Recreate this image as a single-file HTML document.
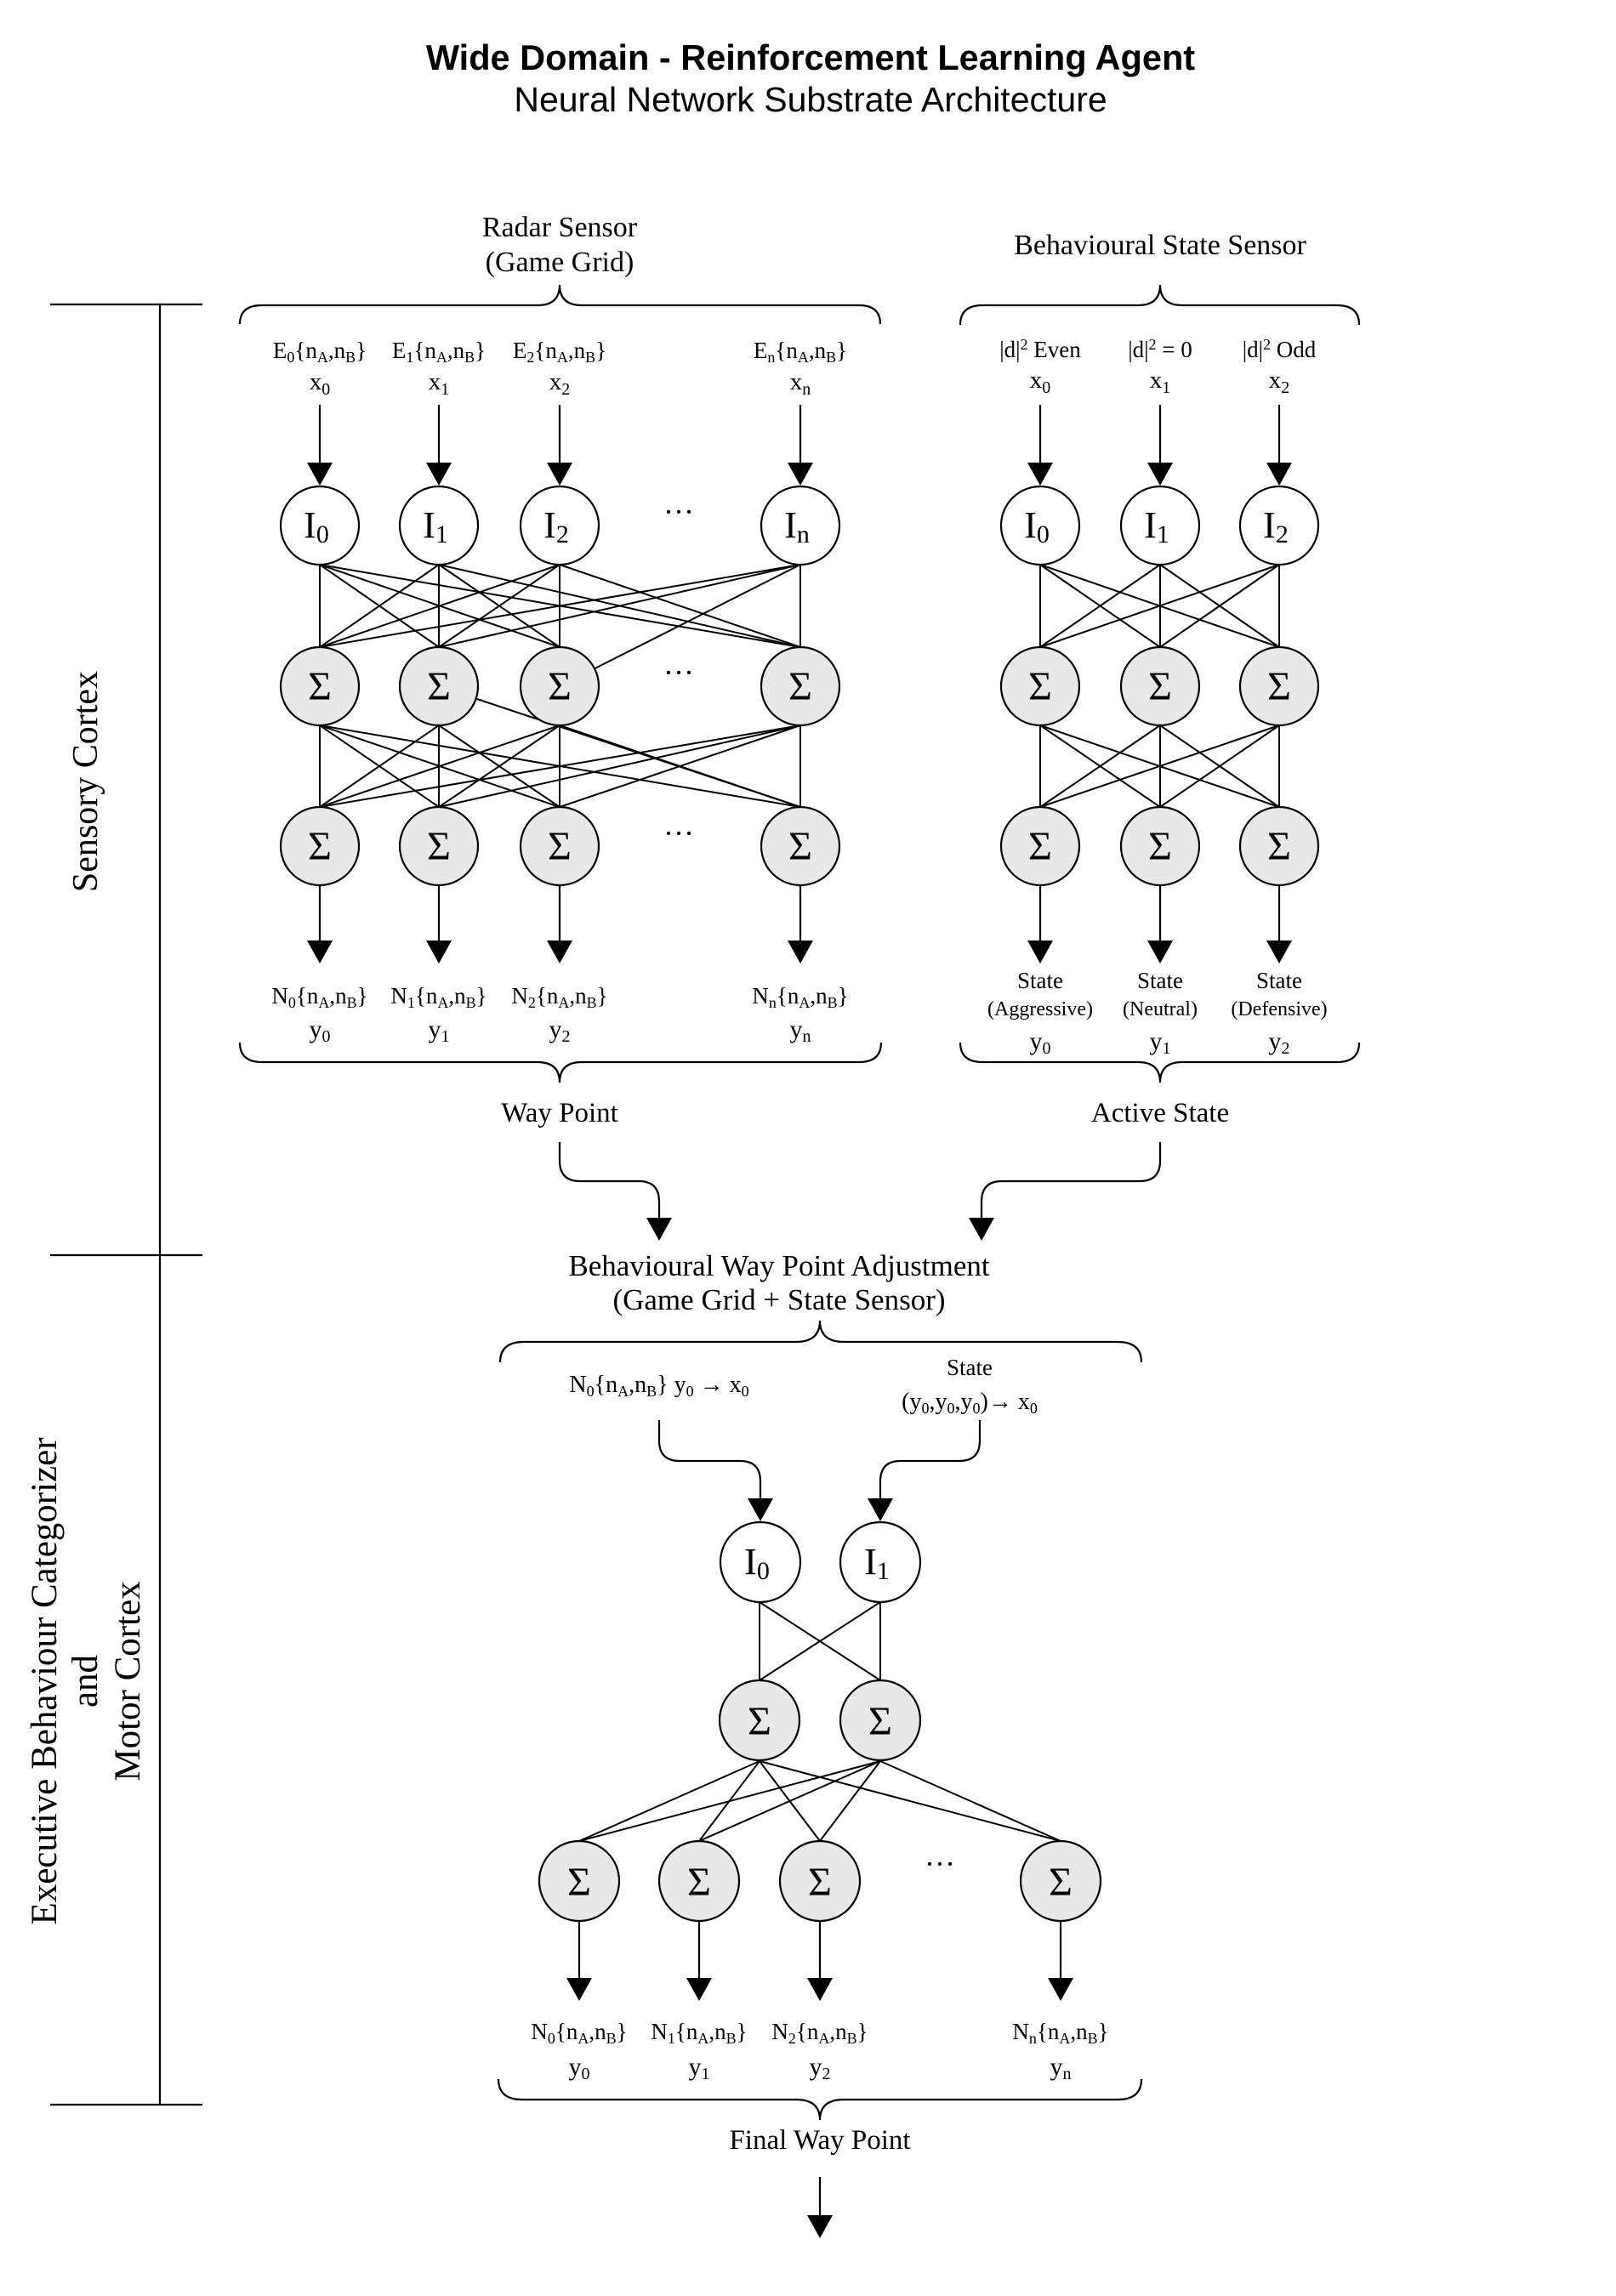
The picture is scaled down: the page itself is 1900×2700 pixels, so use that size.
<!DOCTYPE html>
<html><head><meta charset="utf-8"><style>
html,body{margin:0;padding:0;background:#fff;}
svg{display:block;}
.s{font-family:"Liberation Serif",serif;fill:#000;}
.t{font-family:"Liberation Sans",sans-serif;fill:#000;}
</style></head><body>
<svg width="1900" height="2700" viewBox="0 0 1900 2700" xmlns="http://www.w3.org/2000/svg">
<rect width="1900" height="2700" fill="#fff"/>

<text class="t" x="953" y="82" font-size="41.5" font-weight="bold" text-anchor="middle">Wide Domain - Reinforcement Learning Agent</text>
<text class="t" x="953" y="131" font-size="41" text-anchor="middle">Neural Network Substrate Architecture</text>

<g stroke="#000" stroke-width="2.2" fill="none">
<line x1="188" y1="358" x2="188" y2="2475"/>
<line x1="59" y1="358" x2="238" y2="358"/>
<line x1="59" y1="1476" x2="238" y2="1476"/>
<line x1="59" y1="2475" x2="238" y2="2475"/>
</g>
<text class="s" font-size="42" text-anchor="middle" transform="translate(114,919) rotate(-90)">Sensory Cortex</text>
<text class="s" font-size="43" text-anchor="middle" transform="translate(66,1977) rotate(-90)">Executive Behaviour Categorizer</text>
<text class="s" font-size="43" text-anchor="middle" transform="translate(114,1977) rotate(-90)">and</text>
<text class="s" font-size="43" text-anchor="middle" transform="translate(164,1977) rotate(-90)">Motor Cortex</text>

<text class="s" x="658" y="278" font-size="34" text-anchor="middle">Radar Sensor</text>
<text class="s" x="658" y="319" font-size="34" text-anchor="middle">(Game Grid)</text>
<text class="s" x="1364" y="299" font-size="34" text-anchor="middle">Behavioural State Sensor</text>

<g stroke="#000" stroke-width="2.2" fill="none">
<path d="M282,381 Q282,359 308,359 L632,359 Q658,359 658,335 Q658,359 684,359 L1010,359 Q1035,359 1035,381"/>
<path d="M1129,382 Q1129,359 1155,359 L1338,359 Q1364,359 1364,335 Q1364,359 1390,359 L1572,359 Q1598,359 1598,382"/>
<path d="M282,1226 Q282,1249 308,1249 L632,1249 Q658,1249 658,1273 Q658,1249 684,1249 L1010,1249 Q1036,1249 1036,1226"/>
<path d="M1129,1226 Q1129,1249 1155,1249 L1338,1249 Q1364,1249 1364,1273 Q1364,1249 1390,1249 L1572,1249 Q1598,1249 1598,1226"/>
<path d="M588,1602 Q588,1578 616,1578 L936,1578 Q964,1578 964,1553 Q964,1578 992,1578 L1314,1578 Q1342,1578 1342,1602"/>
<path d="M586,2445 Q586,2469 614,2469 L936,2469 Q964,2469 964,2493 Q964,2469 992,2469 L1314,2469 Q1342,2469 1342,2445"/>
</g>

<g class="s" font-size="27" text-anchor="middle">
<text x="376" y="421">E<tspan font-size="18" dy="5">0</tspan><tspan dy="-5">{n</tspan><tspan font-size="18" dy="5">A</tspan><tspan dy="-5">,n</tspan><tspan font-size="18" dy="5">B</tspan><tspan dy="-5">}</tspan></text>
<text x="516" y="421">E<tspan font-size="18" dy="5">1</tspan><tspan dy="-5">{n</tspan><tspan font-size="18" dy="5">A</tspan><tspan dy="-5">,n</tspan><tspan font-size="18" dy="5">B</tspan><tspan dy="-5">}</tspan></text>
<text x="658" y="421">E<tspan font-size="18" dy="5">2</tspan><tspan dy="-5">{n</tspan><tspan font-size="18" dy="5">A</tspan><tspan dy="-5">,n</tspan><tspan font-size="18" dy="5">B</tspan><tspan dy="-5">}</tspan></text>
<text x="941" y="421">E<tspan font-size="18" dy="5">n</tspan><tspan dy="-5">{n</tspan><tspan font-size="18" dy="5">A</tspan><tspan dy="-5">,n</tspan><tspan font-size="18" dy="5">B</tspan><tspan dy="-5">}</tspan></text>
<text x="376" y="458" font-size="29">x<tspan font-size="20" dy="6">0</tspan></text>
<text x="516" y="458" font-size="29">x<tspan font-size="20" dy="6">1</tspan></text>
<text x="658" y="458" font-size="29">x<tspan font-size="20" dy="6">2</tspan></text>
<text x="941" y="458" font-size="29">x<tspan font-size="20" dy="6">n</tspan></text>
<text x="1223" y="420">|d|<tspan font-size="18" dy="-9">2</tspan><tspan dy="9"> Even</tspan></text>
<text x="1364" y="420">|d|<tspan font-size="18" dy="-9">2</tspan><tspan dy="9"> = 0</tspan></text>
<text x="1504" y="420">|d|<tspan font-size="18" dy="-9">2</tspan><tspan dy="9"> Odd</tspan></text>
<text x="1223" y="456" font-size="29">x<tspan font-size="20" dy="6">0</tspan></text>
<text x="1364" y="456" font-size="29">x<tspan font-size="20" dy="6">1</tspan></text>
<text x="1504" y="456" font-size="29">x<tspan font-size="20" dy="6">2</tspan></text>
</g>

<g stroke="#000" stroke-width="2">
<line x1="376" y1="664" x2="376" y2="761"/><line x1="376" y1="664" x2="516" y2="761"/><line x1="376" y1="664" x2="658" y2="761"/><line x1="376" y1="664" x2="941" y2="761"/>
<line x1="516" y1="664" x2="376" y2="761"/><line x1="516" y1="664" x2="516" y2="761"/><line x1="516" y1="664" x2="658" y2="761"/><line x1="516" y1="664" x2="941" y2="761"/>
<line x1="658" y1="664" x2="376" y2="761"/><line x1="658" y1="664" x2="516" y2="761"/><line x1="658" y1="664" x2="658" y2="761"/><line x1="658" y1="664" x2="941" y2="761"/>
<line x1="941" y1="664" x2="376" y2="761"/><line x1="941" y1="664" x2="516" y2="761"/><line x1="941" y1="664" x2="658" y2="807"/><line x1="941" y1="664" x2="941" y2="761"/>
<line x1="376" y1="853" x2="376" y2="949"/><line x1="376" y1="853" x2="516" y2="949"/><line x1="376" y1="853" x2="658" y2="949"/><line x1="376" y1="853" x2="941" y2="949"/>
<line x1="516" y1="853" x2="376" y2="949"/><line x1="516" y1="853" x2="516" y2="949"/><line x1="516" y1="853" x2="658" y2="949"/><line x1="516" y1="807" x2="941" y2="949"/>
<line x1="658" y1="853" x2="376" y2="949"/><line x1="658" y1="853" x2="516" y2="949"/><line x1="658" y1="853" x2="658" y2="949"/><line x1="658" y1="853" x2="941" y2="949"/>
<line x1="941" y1="853" x2="376" y2="949"/><line x1="941" y1="853" x2="516" y2="949"/><line x1="941" y1="853" x2="658" y2="949"/><line x1="941" y1="853" x2="941" y2="949"/>
<line x1="1223" y1="664" x2="1223" y2="761"/><line x1="1223" y1="664" x2="1364" y2="761"/><line x1="1223" y1="664" x2="1504" y2="761"/>
<line x1="1364" y1="664" x2="1223" y2="761"/><line x1="1364" y1="664" x2="1364" y2="761"/><line x1="1364" y1="664" x2="1504" y2="761"/>
<line x1="1504" y1="664" x2="1223" y2="761"/><line x1="1504" y1="664" x2="1364" y2="761"/><line x1="1504" y1="664" x2="1504" y2="761"/>
<line x1="1223" y1="853" x2="1223" y2="949"/><line x1="1223" y1="853" x2="1364" y2="949"/><line x1="1223" y1="853" x2="1504" y2="949"/>
<line x1="1364" y1="853" x2="1223" y2="949"/><line x1="1364" y1="853" x2="1364" y2="949"/><line x1="1364" y1="853" x2="1504" y2="949"/>
<line x1="1504" y1="853" x2="1223" y2="949"/><line x1="1504" y1="853" x2="1364" y2="949"/><line x1="1504" y1="853" x2="1504" y2="949"/>
<line x1="893" y1="1884" x2="893" y2="1976"/><line x1="893" y1="1884" x2="1035" y2="1976"/>
<line x1="1035" y1="1884" x2="893" y2="1976"/><line x1="1035" y1="1884" x2="1035" y2="1976"/>
<line x1="893" y1="2071" x2="681" y2="2165"/><line x1="893" y1="2071" x2="822" y2="2165"/><line x1="893" y1="2071" x2="964" y2="2165"/><line x1="893" y1="2071" x2="1247" y2="2165"/>
<line x1="1035" y1="2071" x2="681" y2="2165"/><line x1="1035" y1="2071" x2="822" y2="2165"/><line x1="1035" y1="2071" x2="964" y2="2165"/><line x1="1035" y1="2071" x2="1247" y2="2165"/>
</g>

<!-- arrow shafts -->
<g stroke="#000" stroke-width="2.2" fill="none">
<line x1="376" y1="476" x2="376" y2="550"/><line x1="516" y1="476" x2="516" y2="550"/><line x1="658" y1="476" x2="658" y2="550"/><line x1="941" y1="476" x2="941" y2="550"/>
<line x1="1223" y1="476" x2="1223" y2="550"/><line x1="1364" y1="476" x2="1364" y2="550"/><line x1="1504" y1="476" x2="1504" y2="550"/>
<line x1="376" y1="1041" x2="376" y2="1110"/><line x1="516" y1="1041" x2="516" y2="1110"/><line x1="658" y1="1041" x2="658" y2="1110"/><line x1="941" y1="1041" x2="941" y2="1110"/>
<line x1="1223" y1="1041" x2="1223" y2="1110"/><line x1="1364" y1="1041" x2="1364" y2="1110"/><line x1="1504" y1="1041" x2="1504" y2="1110"/>
<path d="M658,1343 L658,1365 Q658,1389 682,1389 L751,1389 Q775,1389 775,1413 L775,1436"/>
<path d="M1364,1343 L1364,1365 Q1364,1389 1340,1389 L1178,1389 Q1154,1389 1154,1413 L1154,1436"/>
<path d="M775,1670 L775,1694 Q775,1718 799,1718 L870,1718 Q894,1718 894,1742 L894,1766"/>
<path d="M1152,1670 L1152,1694 Q1152,1718 1128,1718 L1059,1718 Q1035,1718 1035,1742 L1035,1766"/>
<line x1="681" y1="2259" x2="681" y2="2330"/><line x1="822" y1="2259" x2="822" y2="2330"/><line x1="964" y1="2259" x2="964" y2="2330"/><line x1="1247" y1="2259" x2="1247" y2="2330"/>
<line x1="964" y1="2560" x2="964" y2="2610"/>
</g>
<!-- arrow heads -->
<g fill="#000">
<polygon points="361,544 391,544 376,571"/><polygon points="501,544 531,544 516,571"/><polygon points="643,544 673,544 658,571"/><polygon points="926,544 956,544 941,571"/>
<polygon points="1208,544 1238,544 1223,571"/><polygon points="1349,544 1379,544 1364,571"/><polygon points="1489,544 1519,544 1504,571"/>
<polygon points="361,1106 391,1106 376,1133"/><polygon points="501,1106 531,1106 516,1133"/><polygon points="643,1106 673,1106 658,1133"/><polygon points="926,1106 956,1106 941,1133"/>
<polygon points="1208,1106 1238,1106 1223,1133"/><polygon points="1349,1106 1379,1106 1364,1133"/><polygon points="1489,1106 1519,1106 1504,1133"/>
<polygon points="760,1432 790,1432 775,1459"/><polygon points="1139,1432 1169,1432 1154,1459"/>
<polygon points="879,1762 909,1762 894,1789"/><polygon points="1020,1762 1050,1762 1035,1789"/>
<polygon points="666,2326 696,2326 681,2353"/><polygon points="807,2326 837,2326 822,2353"/><polygon points="949,2326 979,2326 964,2353"/><polygon points="1232,2326 1262,2326 1247,2353"/>
<polygon points="949,2605 979,2605 964,2632"/>
</g>

<g stroke="#000" stroke-width="2.2">
<circle cx="376" cy="618" r="46" fill="#fff"/><circle cx="516" cy="618" r="46" fill="#fff"/><circle cx="658" cy="618" r="46" fill="#fff"/><circle cx="941" cy="618" r="46" fill="#fff"/>
<circle cx="1223" cy="618" r="46" fill="#fff"/><circle cx="1364" cy="618" r="46" fill="#fff"/><circle cx="1504" cy="618" r="46" fill="#fff"/>
<circle cx="376" cy="807" r="46" fill="#e8e8e8"/><circle cx="516" cy="807" r="46" fill="#e8e8e8"/><circle cx="658" cy="807" r="46" fill="#e8e8e8"/><circle cx="941" cy="807" r="46" fill="#e8e8e8"/>
<circle cx="1223" cy="807" r="46" fill="#e8e8e8"/><circle cx="1364" cy="807" r="46" fill="#e8e8e8"/><circle cx="1504" cy="807" r="46" fill="#e8e8e8"/>
<circle cx="376" cy="995" r="46" fill="#e8e8e8"/><circle cx="516" cy="995" r="46" fill="#e8e8e8"/><circle cx="658" cy="995" r="46" fill="#e8e8e8"/><circle cx="941" cy="995" r="46" fill="#e8e8e8"/>
<circle cx="1223" cy="995" r="46" fill="#e8e8e8"/><circle cx="1364" cy="995" r="46" fill="#e8e8e8"/><circle cx="1504" cy="995" r="46" fill="#e8e8e8"/>
<circle cx="894" cy="1837" r="47" fill="#fff"/><circle cx="1035" cy="1837" r="47" fill="#fff"/>
<circle cx="893" cy="2023" r="47" fill="#e8e8e8"/><circle cx="1035" cy="2023" r="47" fill="#e8e8e8"/>
<circle cx="681" cy="2212" r="47" fill="#e8e8e8"/><circle cx="822" cy="2212" r="47" fill="#e8e8e8"/><circle cx="964" cy="2212" r="47" fill="#e8e8e8"/><circle cx="1247" cy="2212" r="47" fill="#e8e8e8"/>
</g>

<g class="s" font-size="44" text-anchor="middle">
<text x="372" y="632">I<tspan font-size="30" dy="6">0</tspan></text>
<text x="512" y="632">I<tspan font-size="30" dy="6">1</tspan></text>
<text x="654" y="632">I<tspan font-size="30" dy="6">2</tspan></text>
<text x="937" y="632">I<tspan font-size="30" dy="6">n</tspan></text>
<text x="1219" y="632">I<tspan font-size="30" dy="6">0</tspan></text>
<text x="1360" y="632">I<tspan font-size="30" dy="6">1</tspan></text>
<text x="1500" y="632">I<tspan font-size="30" dy="6">2</tspan></text>
<text x="890" y="1851">I<tspan font-size="30" dy="6">0</tspan></text>
<text x="1031" y="1851">I<tspan font-size="30" dy="6">1</tspan></text>
<g font-size="48">
<text x="376" y="823">Σ</text><text x="516" y="823">Σ</text><text x="658" y="823">Σ</text><text x="941" y="823">Σ</text>
<text x="1223" y="823">Σ</text><text x="1364" y="823">Σ</text><text x="1504" y="823">Σ</text>
<text x="376" y="1011">Σ</text><text x="516" y="1011">Σ</text><text x="658" y="1011">Σ</text><text x="941" y="1011">Σ</text>
<text x="1223" y="1011">Σ</text><text x="1364" y="1011">Σ</text><text x="1504" y="1011">Σ</text>
<text x="893" y="2040">Σ</text><text x="1035" y="2040">Σ</text>
<text x="681" y="2229">Σ</text><text x="822" y="2229">Σ</text><text x="964" y="2229">Σ</text><text x="1247" y="2229">Σ</text>
</g>
<g font-size="36">
<text x="798" y="614">···</text><text x="798" y="803">···</text><text x="798" y="992">···</text><text x="1105" y="2204">···</text>
</g>
</g>

<g class="s" font-size="27" text-anchor="middle">
<text x="376" y="1180">N<tspan font-size="18" dy="5">0</tspan><tspan dy="-5">{n</tspan><tspan font-size="18" dy="5">A</tspan><tspan dy="-5">,n</tspan><tspan font-size="18" dy="5">B</tspan><tspan dy="-5">}</tspan></text>
<text x="516" y="1180">N<tspan font-size="18" dy="5">1</tspan><tspan dy="-5">{n</tspan><tspan font-size="18" dy="5">A</tspan><tspan dy="-5">,n</tspan><tspan font-size="18" dy="5">B</tspan><tspan dy="-5">}</tspan></text>
<text x="658" y="1180">N<tspan font-size="18" dy="5">2</tspan><tspan dy="-5">{n</tspan><tspan font-size="18" dy="5">A</tspan><tspan dy="-5">,n</tspan><tspan font-size="18" dy="5">B</tspan><tspan dy="-5">}</tspan></text>
<text x="941" y="1180">N<tspan font-size="18" dy="5">n</tspan><tspan dy="-5">{n</tspan><tspan font-size="18" dy="5">A</tspan><tspan dy="-5">,n</tspan><tspan font-size="18" dy="5">B</tspan><tspan dy="-5">}</tspan></text>
<text x="376" y="1220" font-size="30">y<tspan font-size="20" dy="5">0</tspan></text>
<text x="516" y="1220" font-size="30">y<tspan font-size="20" dy="5">1</tspan></text>
<text x="658" y="1220" font-size="30">y<tspan font-size="20" dy="5">2</tspan></text>
<text x="941" y="1220" font-size="30">y<tspan font-size="20" dy="5">n</tspan></text>
<text x="1223" y="1162">State</text><text x="1364" y="1162">State</text><text x="1504" y="1162">State</text>
<text x="1223" y="1194" font-size="24">(Aggressive)</text><text x="1364" y="1194" font-size="24">(Neutral)</text><text x="1504" y="1194" font-size="24">(Defensive)</text>
<text x="1223" y="1234" font-size="30">y<tspan font-size="20" dy="5">0</tspan></text>
<text x="1364" y="1234" font-size="30">y<tspan font-size="20" dy="5">1</tspan></text>
<text x="1504" y="1234" font-size="30">y<tspan font-size="20" dy="5">2</tspan></text>
<text x="658" y="1319" font-size="33">Way Point</text>
<text x="1364" y="1319" font-size="33">Active State</text>
<text x="916" y="1500" font-size="35">Behavioural Way Point Adjustment</text>
<text x="916" y="1540" font-size="35">(Game Grid + State Sensor)</text>
<text x="775" y="1637" font-size="28">N<tspan font-size="18" dy="5">0</tspan><tspan dy="-5">{n</tspan><tspan font-size="18" dy="5">A</tspan><tspan dy="-5">,n</tspan><tspan font-size="18" dy="5">B</tspan><tspan dy="-5">}  y</tspan><tspan font-size="18" dy="5">0</tspan><tspan dy="-5"> → x</tspan><tspan font-size="18" dy="5">0</tspan></text>
<text x="1140" y="1617" font-size="27">State</text>
<text x="1140" y="1657" font-size="28">(y<tspan font-size="18" dy="5">0</tspan><tspan dy="-5">,y</tspan><tspan font-size="18" dy="5">0</tspan><tspan dy="-5">,y</tspan><tspan font-size="18" dy="5">0</tspan><tspan dy="-5">)→ x</tspan><tspan font-size="18" dy="5">0</tspan></text>
<text x="681" y="2398">N<tspan font-size="18" dy="5">0</tspan><tspan dy="-5">{n</tspan><tspan font-size="18" dy="5">A</tspan><tspan dy="-5">,n</tspan><tspan font-size="18" dy="5">B</tspan><tspan dy="-5">}</tspan></text>
<text x="822" y="2398">N<tspan font-size="18" dy="5">1</tspan><tspan dy="-5">{n</tspan><tspan font-size="18" dy="5">A</tspan><tspan dy="-5">,n</tspan><tspan font-size="18" dy="5">B</tspan><tspan dy="-5">}</tspan></text>
<text x="964" y="2398">N<tspan font-size="18" dy="5">2</tspan><tspan dy="-5">{n</tspan><tspan font-size="18" dy="5">A</tspan><tspan dy="-5">,n</tspan><tspan font-size="18" dy="5">B</tspan><tspan dy="-5">}</tspan></text>
<text x="1247" y="2398">N<tspan font-size="18" dy="5">n</tspan><tspan dy="-5">{n</tspan><tspan font-size="18" dy="5">A</tspan><tspan dy="-5">,n</tspan><tspan font-size="18" dy="5">B</tspan><tspan dy="-5">}</tspan></text>
<text x="681" y="2440" font-size="30">y<tspan font-size="20" dy="5">0</tspan></text>
<text x="822" y="2440" font-size="30">y<tspan font-size="20" dy="5">1</tspan></text>
<text x="964" y="2440" font-size="30">y<tspan font-size="20" dy="5">2</tspan></text>
<text x="1247" y="2440" font-size="30">y<tspan font-size="20" dy="5">n</tspan></text>
<text x="964" y="2527" font-size="33">Final Way Point</text>
</g>
</svg>
</body></html>
